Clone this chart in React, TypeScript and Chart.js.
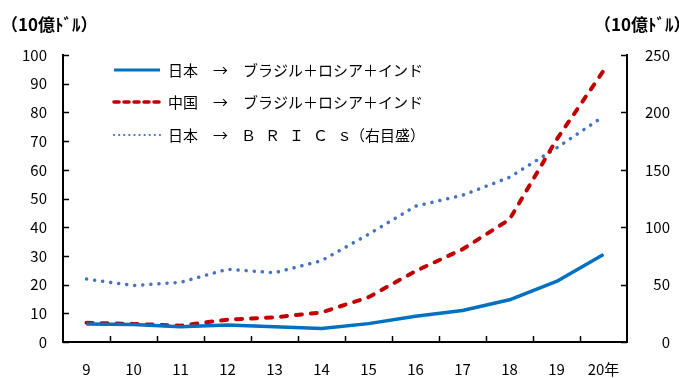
import React, { useEffect, useRef } from "react";
import { Chart, registerables } from "chart.js";

Chart.register(...registerables);

// ---- data ----
const categories = ["9", "10", "11", "12", "13", "14", "15", "16", "17", "18", "19", "20年"];
const japanToBRI = [6.3, 6.1, 5.3, 5.9, 5.3, 4.7, 6.4, 9.0, 11.0, 14.7, 21.1, 30.5];
const chinaToBRI = [6.7, 6.3, 5.7, 7.8, 8.6, 10.3, 15.6, 24.7, 32.3, 42.7, 70.5, 94.5];
const japanToBRICs = [54.8, 49.2, 52.0, 63.4, 60.3, 70.8, 93.8, 118.3, 127.8, 143.5, 169.0, 196.5];

const leftAxis = { min: 0, max: 100, step: 10 };
const rightAxis = { min: 0, max: 250, step: 50 };
const unitLabel = "（10億ﾄﾞﾙ）";

const seriesNames = [
  "日本　→　ブラジル＋ロシア＋インド",
  "中国　→　ブラジル＋ロシア＋インド",
  "日本　→　ＢＲＩＣｓ（右目盛）",
];

const FONT = '"Noto Sans CJK JP", "Noto Sans", sans-serif';
const BLUE = "#0070C0";
const RED = "#C00000";
const DOT = "#4472C4";

const overlayPlugin = {
  id: "overlay",
  afterDraw(chart: any) {
    const ctx: CanvasRenderingContext2D = chart.ctx;
    const area = chart.chartArea;
    const x = chart.scales.x;
    const y = chart.scales.y;
    const y2 = chart.scales.y2;
    ctx.save();
    // inward tick marks
    ctx.strokeStyle = "#000";
    ctx.lineWidth = 1.5;
    ctx.beginPath();
    for (let v = leftAxis.min; v <= leftAxis.max; v += leftAxis.step) {
      const py = Math.round(y.getPixelForValue(v)) + 0.5;
      ctx.moveTo(area.left, py);
      ctx.lineTo(area.left + 6, py);
    }
    for (let v = rightAxis.min; v <= rightAxis.max; v += rightAxis.step) {
      const py = Math.round(y2.getPixelForValue(v)) + 0.5;
      ctx.moveTo(area.right, py);
      ctx.lineTo(area.right - 6, py);
    }
    for (let i = 0; i < categories.length - 1; i++) {
      const px = Math.round((x.getPixelForValue(i) + x.getPixelForValue(i + 1)) / 2) + 0.5;
      ctx.moveTo(px, area.bottom);
      ctx.lineTo(px, area.bottom - 6);
    }
    ctx.stroke();

    // unit labels
    ctx.fillStyle = "#000";
    ctx.font = `bold 17px ${FONT}`;
    ctx.textBaseline = "middle";
    ctx.textAlign = "left";
    ctx.fillText(unitLabel, 1, 25);
    ctx.fillText(unitLabel, 594, 25);

    // legend
    const rows = [70, 102, 135];
    const styles = [
      { color: BLUE, width: 3, dash: [] as number[], cap: "butt" },
      { color: RED, width: 3.5, dash: [5, 5], cap: "round" },
      { color: DOT, width: 2.2, dash: [0.1, 5], cap: "round" },
    ];
    rows.forEach((ry, i) => {
      const s = styles[i];
      ctx.beginPath();
      ctx.strokeStyle = s.color;
      ctx.lineWidth = s.width;
      ctx.lineCap = s.cap as CanvasLineCap;
      ctx.setLineDash(s.dash);
      ctx.moveTo(114, ry);
      ctx.lineTo(160, ry);
      ctx.stroke();
    });
    ctx.setLineDash([]);
    ctx.font = `15px ${FONT}`;
    ctx.fillStyle = "#000";
    ctx.fillText(seriesNames[0], 168, rows[0]);
    ctx.fillText(seriesNames[1], 168, rows[1]);
    // third row: spaced latin letters
    const parts = seriesNames[2].split("→");
    const head = parts[0] + "→　";
    const rest = parts[1].replace(/^　/, "");
    const parenIdx = rest.indexOf("（");
    const letters = rest.slice(0, parenIdx);
    const tail = rest.slice(parenIdx);
    ctx.fillText(head, 168, rows[2]);
    (ctx as any).letterSpacing = "9px";
    ctx.fillText(letters, 241, rows[2]);
    (ctx as any).letterSpacing = "0px";
    ctx.fillText(tail, 350, rows[2]);
    ctx.restore();
  },
};

export default function App() {
  const ref = useRef<HTMLCanvasElement | null>(null);
  useEffect(() => {
    if (!ref.current) return;
    const tickFont = { family: FONT, size: 15 };
    const chart = new Chart(ref.current, {
      type: "line",
      data: {
        labels: categories,
        datasets: [
          {
            label: seriesNames[0],
            data: japanToBRI,
            borderColor: BLUE,
            borderWidth: 3.5,
            pointRadius: 0,
            tension: 0,
            yAxisID: "y",
            borderJoinStyle: "round",
          },
          {
            label: seriesNames[1],
            data: chinaToBRI,
            borderColor: RED,
            borderWidth: 4,
            borderDash: [6, 9],
            borderCapStyle: "round",
            pointRadius: 0,
            tension: 0,
            yAxisID: "y",
          },
          {
            label: seriesNames[2],
            data: japanToBRICs,
            borderColor: DOT,
            borderWidth: 3.5,
            borderDash: [0.1, 8],
            borderCapStyle: "round",
            pointRadius: 0,
            tension: 0,
            yAxisID: "y2",
          },
        ],
      },
      options: {
        animation: false,
        responsive: true,
        maintainAspectRatio: false,
        layout: { padding: { top: 55, right: 9, bottom: 0, left: 0 } },
        plugins: { legend: { display: false }, tooltip: { enabled: false } },
        scales: {
          x: {
            type: "category",
            offset: true,
            grid: { display: false, offset: true },
            border: { display: true, color: "#000", width: 2 },
            ticks: { font: tickFont, color: "#000", padding: 10, maxRotation: 0, autoSkip: false },
            afterFit: (s: any) => { s.height = 36; },
          },
          y: {
            position: "left",
            min: leftAxis.min,
            max: leftAxis.max,
            grid: { display: false, drawTicks: false },
            border: { display: true, color: "#000", width: 2 },
            ticks: { stepSize: leftAxis.step, font: tickFont, color: "#000", padding: 16 },
            afterFit: (s: any) => { s.width = 63; },
          },
          y2: {
            position: "right",
            min: rightAxis.min,
            max: rightAxis.max,
            grid: { display: false, drawTicks: false },
            border: { display: true, color: "#000", width: 2 },
            ticks: { stepSize: rightAxis.step, font: tickFont, color: "#000", padding: 16, crossAlign: "far" },
            afterFit: (s: any) => { s.width = 43; },
          },
        },
      },
      plugins: [overlayPlugin],
    } as any);
    return () => chart.destroy();
  }, []);
  return (
    <div style={{ position: "fixed", left: 0, top: 0, width: 679, height: 378, background: "#fff" }}>
      <canvas ref={ref} />
    </div>
  );
}
